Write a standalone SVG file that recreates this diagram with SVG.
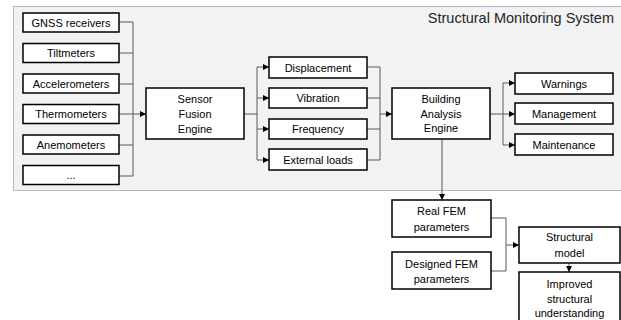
<svg xmlns="http://www.w3.org/2000/svg" width="621" height="320" viewBox="0 0 621 320">
<defs>
<style>
.box{fill:#ffffff;stroke:#000000;stroke-width:1.5}
.t{font-family:"Liberation Sans",Arial,sans-serif;font-size:11px;fill:#000000;text-anchor:middle}
.c{fill:none;stroke:#595959;stroke-width:1}
.title{font-family:"Liberation Sans",Arial,sans-serif;font-size:14.5px;fill:#262626;text-anchor:end}
</style>
<marker id="arr" markerUnits="userSpaceOnUse" markerWidth="7" markerHeight="7" refX="6" refY="3.5" orient="auto">
<path d="M0,0.5 L6,3.5 L0,6.5 Z" fill="#000000"/>
</marker>
</defs>
<rect x="13.5" y="6.5" width="620" height="184" fill="#f2f2f2" stroke="#a9bcd0" stroke-width="1"/>
<text class="title" x="614" y="23">Structural Monitoring System</text>

<g id="connectors">
<path class="c" d="M119,22 H133 M119,53 H133 M119,84 H133 M119,145 H133 M119,176 H133 M133,22 V176"/>
<path class="c" d="M119,114 H146" marker-end="url(#arr)"/>
<path class="c" d="M244,114 H257 M257,67 V160"/>
<path class="c" d="M257,67 H269" marker-end="url(#arr)"/>
<path class="c" d="M257,98 H269" marker-end="url(#arr)"/>
<path class="c" d="M257,129 H269" marker-end="url(#arr)"/>
<path class="c" d="M257,160 H269" marker-end="url(#arr)"/>
<path class="c" d="M367,67 H380 M367,98 H380 M367,129 H380 M367,160 H380 M380,67 V160"/>
<path class="c" d="M380,114 H392" marker-end="url(#arr)"/>
<path class="c" d="M490,114 H503 M503,83 V145"/>
<path class="c" d="M503,83 H515" marker-end="url(#arr)"/>
<path class="c" d="M503,114 H515" marker-end="url(#arr)"/>
<path class="c" d="M503,145 H515" marker-end="url(#arr)"/>
<path class="c" d="M442,139 V200" marker-end="url(#arr)"/>
<path class="c" d="M491,218 H506 M491,271 H506 M506,218 V271"/>
<path class="c" d="M506,245 H519" marker-end="url(#arr)"/>
<path class="c" d="M569,263 V272" marker-end="url(#arr)"/>
</g>

<g id="gnss"><rect class="box" x="23" y="13" width="96" height="19"/><text class="t" x="71" y="26.5">GNSS receivers</text></g>
<g id="tilt"><rect class="box" x="23" y="43.5" width="96" height="19"/><text class="t" x="71" y="57">Tiltmeters</text></g>
<g id="accel"><rect class="box" x="23" y="74" width="96" height="19"/><text class="t" x="71" y="87.5">Accelerometers</text></g>
<g id="thermo"><rect class="box" x="23" y="104.5" width="96" height="19"/><text class="t" x="71" y="118">Thermometers</text></g>
<g id="anemo"><rect class="box" x="23" y="135" width="96" height="19"/><text class="t" x="71" y="148.5">Anemometers</text></g>
<g id="more"><rect class="box" x="23" y="165.5" width="96" height="19"/><text class="t" x="71" y="179">...</text></g>

<g id="fusion"><rect class="box" x="146" y="88" width="98" height="51"/><text class="t" x="195" y="103">Sensor</text><text class="t" x="195" y="118">Fusion</text><text class="t" x="195" y="133">Engine</text></g>

<g id="displacement"><rect class="box" x="269" y="57" width="98" height="21"/><text class="t" x="318" y="71.5">Displacement</text></g>
<g id="vibration"><rect class="box" x="269" y="88" width="98" height="20"/><text class="t" x="318" y="102">Vibration</text></g>
<g id="frequency"><rect class="box" x="269" y="119" width="98" height="20"/><text class="t" x="318" y="133">Frequency</text></g>
<g id="loads"><rect class="box" x="269" y="149" width="98" height="21"/><text class="t" x="318" y="163.5">External loads</text></g>

<g id="building"><rect class="box" x="392" y="88" width="98" height="51"/><text class="t" x="441" y="103">Building</text><text class="t" x="441" y="118">Analysis</text><text class="t" x="441" y="132">Engine</text></g>

<g id="warnings"><rect class="box" x="515" y="73" width="98" height="21"/><text class="t" x="564" y="87.5">Warnings</text></g>
<g id="management"><rect class="box" x="515" y="103" width="98" height="21"/><text class="t" x="564" y="117.5">Management</text></g>
<g id="maintenance"><rect class="box" x="515" y="134" width="98" height="21"/><text class="t" x="564" y="148.5">Maintenance</text></g>

<g id="realfem"><rect class="box" x="392" y="200" width="99" height="37"/><text class="t" x="441.5" y="215">Real FEM</text><text class="t" x="441.5" y="231">parameters</text></g>
<g id="designedfem"><rect class="box" x="392" y="252" width="99" height="37"/><text class="t" x="441.5" y="268">Designed FEM</text><text class="t" x="441.5" y="283">parameters</text></g>
<g id="structural"><rect class="box" x="519" y="227" width="101" height="36"/><text class="t" x="569.5" y="241">Structural</text><text class="t" x="569.5" y="257">model</text></g>
<g id="improved"><rect class="box" x="519" y="272" width="101" height="52"/><text class="t" x="569.5" y="288">Improved</text><text class="t" x="569.5" y="303">structural</text><text class="t" x="569.5" y="317">understanding</text></g>
</svg>
